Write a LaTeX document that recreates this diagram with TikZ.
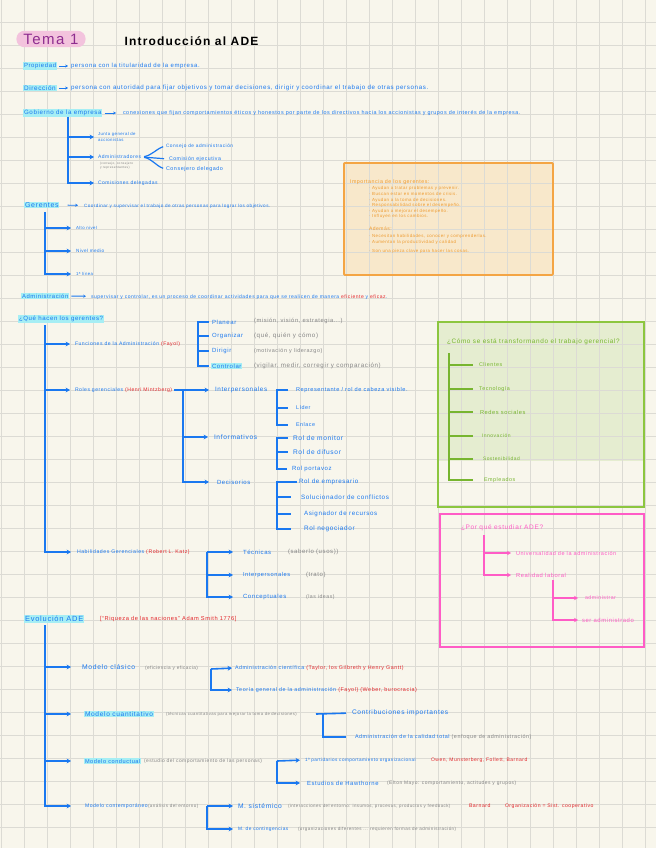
\documentclass[tikz,border=0pt]{standalone}
\usepackage{fontspec}
\setmainfont{Liberation Sans}[LetterSpace=10]
\usetikzlibrary{arrows.meta}
\definecolor{paper}{HTML}{F8F6EC}
\definecolor{gridc}{HTML}{DCDBD4}
\definecolor{bl}{HTML}{1A78F0}
\definecolor{rd}{HTML}{E3262B}
\definecolor{gy}{HTML}{868686}
\definecolor{hl}{HTML}{A6EEF4}
\definecolor{orb}{HTML}{F4A544}
\definecolor{orf}{HTML}{F8E8CB}
\definecolor{orT}{HTML}{EE9A2E}
\definecolor{grb}{HTML}{8CC63F}
\definecolor{grf}{HTML}{E5EDD0}
\definecolor{grT}{HTML}{77B52F}
\definecolor{pk}{HTML}{FF5CC6}
\definecolor{tpk}{HTML}{F3C3DD}
\definecolor{tpu}{HTML}{8E2D8F}
\newcommand{\fsz}[1]{\fontsize{#1}{#1}\selectfont}
\tikzset{
 tx/.style={anchor=west, inner sep=0.8pt, text=bl, font=\fsz{6}},
 gt/.style={tx, text=gy},
 rt/.style={tx, text=rd},
 hlt/.style={tx, fill=hl},
 ot/.style={tx, text=orT, font=\fsz{4.4}},
 gnt/.style={tx, text=grT, font=\fsz{5.4}},
 pkt/.style={tx, text=pk, font=\fsz{5.5}},
 arr/.style={draw=bl, line width=1.6pt, -{Stealth[length=4.4pt,width=4.8pt]}},
 ln/.style={draw=bl, line width=1.6pt},
 sarr/.style={draw=bl, line width=0.9pt, -{Stealth[length=2.8pt,width=3pt]}},
 gln/.style={draw=grT, line width=1.5pt},
 parr/.style={draw=pk, line width=1.5pt, -{Stealth[length=4pt,width=4.4pt]}},
}
\begin{document}
\begin{tikzpicture}[x=1pt,y=-1pt]
\useasboundingbox (0,0) rectangle (656,848);
\fill[paper] (0,0) rectangle (656,848);
% boxes backgrounds
\fill[orf] (343,162) rectangle (552,274);
\fill[grf] (437,321) rectangle (643,461);
\foreach \i in {0,...,28}{\draw[gridc, line width=0.8pt] ({1+23*\i},0) -- ({1+23*\i},848);}
\foreach \j in {0,...,37}{\draw[gridc, line width=0.8pt] (0,{-0.7+23*\j}) -- (656,{-0.7+23*\j});}

% title
\node[fill=tpk, rounded corners=8pt, text=tpu, font=\fsz{15}, inner xsep=7pt, inner ysep=3pt] (tema) at (51,39) {Tema 1};
\node[anchor=west, text=black, font=\bfseries\fsz{12}] (intro) at (121,41) {Introducción al ADE};

% definitions
\node[hlt] (prop) at (23,66) {Propiedad};
\node[tx] (propt) at (70,66) {persona con la titularidad de la empresa.};
\draw[sarr, shorten <=2pt, shorten >=2pt] (prop) -- (propt);
\node[hlt, font=\fsz{6.4}] (dir) at (23,88) {Dirección};
\node[tx, font=\fsz{6.2}] (dirt) at (70,88) {persona con autoridad para fijar objetivos y tomar decisiones, dirigir y coordinar el trabajo de otras personas.};
\draw[sarr, shorten <=2pt, shorten >=2pt] (dir) -- (dirt);
\node[hlt, font=\fsz{6.2}] (gob) at (23,113) {Gobierno de la empresa};
\node[tx, font=\fsz{5.4}] (gobt) at (122,113) {conexiones que fijan comportamientos éticos y honestos por parte de los directivos hacia los accionistas y grupos de interés de la empresa.};
\draw[sarr, shorten <=2pt, shorten >=6pt] (gob) -- (gobt);

% tree gobierno
\coordinate (g0) at (68,117);
\node[tx, font=\fontsize{4.3}{5.6}\selectfont, align=left] (jg) at (97,137) {Junta general de\\accionistas};
\node[tx, font=\fsz{5}] (adm) at (97,157) {Administradores};
\node[gt, font=\fontsize{3.2}{3.9}\selectfont, align=left] (admsub) at (99,165.5) {(consejo, consejero\\ y representantes)};
\node[tx, font=\fsz{5}] (com) at (97,183) {Comisiones delegadas};
\draw[arr, shorten >=3pt] (g0) |- (jg.west);
\draw[arr, shorten >=3pt] (g0) |- (adm.west);
\draw[arr, shorten >=3pt] (g0) |- (com.west);
\node[tx, font=\fsz{4.8}] (cda) at (165,146) {Consejo de administración};
\node[tx, font=\fsz{5.2}] (cej) at (168,159) {Comisión ejecutiva};
\node[tx, font=\fsz{5.4}] (cdel) at (165,169) {Consejero delegado};
\draw[ln, line width=1.2pt, shorten <=2pt, shorten >=2pt] (adm.east) to[out=10, in=200] (cda.west);
\draw[ln, line width=1.2pt, shorten <=2pt, shorten >=4pt] (adm.east) -- (cej.west);
\draw[ln, line width=1.2pt, shorten <=2pt, shorten >=2pt] (adm.east) to[out=-10, in=160] (cdel.west);

% gerentes
\node[hlt, font=\fsz{7}] (ger) at (24,205) {Gerentes};
\node[tx, font=\fsz{4.6}] (gert) at (83,206) {Coordinar y supervisar el trabajo de otras personas para lograr los objetivos.};
\draw[sarr, shorten <=8pt, shorten >=5pt] (ger) -- (gert);
\coordinate (c0) at (45,212);
\node[tx, font=\fsz{4.3}] (alto) at (75,228) {Alto nivel};
\node[tx, font=\fsz{4.6}] (medio) at (75,251) {Nivel medio};
\node[tx, font=\fsz{4.3}] (linea) at (75,274) {1ª línea};
\draw[arr, shorten >=4pt] (c0) |- (alto.west);
\draw[arr, shorten >=4pt] (c0) |- (medio.west);
\draw[arr, shorten >=4pt] (c0) |- (linea.west);

% orange box
\node[draw=orb, line width=1.8pt, rounded corners=1pt, minimum width=209pt, minimum height=112pt, anchor=north west, inner sep=0] (obox) at (343,162) {};
\node[ot, font=\fsz{5.3}] (oimp) at (349,182) {Importancia de los gerentes:};
\node[ot] (o1) at (368,188) {· Ayudan a tratar problemas y prevenir.};
\node[ot] (o2) at (368,194) {· Buscan estar en momentos de crisis.};
\node[ot] (o3) at (368,200) {· Ayudan a la toma de decisiones.};
\node[ot] (o4) at (368,205.5) {· Responsabilidad sobre el desempeño.};
\node[ot] (o5) at (368,211) {· Ayudan a mejorar el desempeño.};
\node[ot] (o6) at (368,216.5) {· Influyen en los cambios.};
\node[ot, font=\fsz{5}] (oad) at (368,229) {Además:};
\node[ot] (o7) at (368,236) {· Necesitan habilidades, conocer y comprenderlas.};
\node[ot] (o8) at (368,242.5) {· Aumentan la productividad y calidad};
\node[ot] (o9) at (368,251) {· Son una pieza clave para hacer las cosas.};

% administracion
\node[hlt, font=\fsz{5.9}] (admn) at (21,296) {Administración};
\node[tx, font=\fsz{5}] (admt) at (90,297) {supervisar y controlar, es un proceso de coordinar actividades para que se realicen de manera \textcolor{rd}{eficiente} y \textcolor{rd}{eficaz}.};
\draw[sarr, shorten <=2pt, shorten >=4pt] (admn) -- (admt);

% que hacen
\node[hlt, font=\fsz{6.1}] (que) at (18,319) {¿Qué hacen los gerentes?};
\coordinate (q0) at (45,325);
\node[tx, font=\fsz{5.1}] (fun) at (74,344) {Funciones de la Administración \textcolor{rd}{(Fayol)}};
\draw[arr, shorten >=4pt] (q0) |- (fun.west);
\coordinate (fb) at (198,344);
\node[tx] (plan) at (211,322) {Planear};
\node[tx] (orga) at (211,336) {Organizar};
\node[tx] (dirg) at (211,351) {Dirigir};
\node[hlt] (ctrl) at (211,366) {Controlar};
\draw[ln, shorten >=2pt] (fb) |- (plan.west);
\draw[ln, shorten >=2pt] (fb) |- (orga.west);
\draw[ln, shorten >=2pt] (fb) |- (dirg.west);
\draw[ln, shorten >=2pt] (fb) |- (ctrl.west);
\node[gt, font=\fsz{5.8}] (planD) at (253,321) {(misión, visión, estrategia...)};
\node[gt, font=\fsz{6.2}] (orgaD) at (253,336) {(qué, quién y cómo)};
\node[gt, font=\fsz{5.4}] (dirgD) at (253,351) {(motivación y liderazgo)};
\node[gt, font=\fsz{6.2}] (ctrlD) at (253,366) {(vigilar, medir, corregir y comparación)};

% roles
\node[tx, font=\fsz{5.1}] (rol) at (74,390) {Roles gerenciales \textcolor{rd}{(Henri Mintzberg)}};
\draw[arr, shorten >=4pt] (q0) |- (rol.west);
\coordinate (r0) at (183,390);
\draw[ln, shorten <=1pt] (rol.east) -- (r0);
\node[tx, font=\fsz{6.3}] (ip) at (214,390) {Interpersonales};
\node[tx, font=\fsz{6.6}] (inf) at (213,437) {Informativos};
\node[tx, font=\fsz{6}] (dec) at (216,482) {Decisorios};
\draw[arr, shorten >=5pt] (r0) |- (ip.west);
\draw[arr, shorten >=5pt] (r0) |- (inf.west);
\draw[arr, shorten >=7pt] (r0) |- (dec.west);
\coordinate (ipb) at (277,408);
\node[tx, font=\fsz{5.6}] (rep) at (295,390) {Representante / rol de cabeza visible.};
\node[tx, font=\fsz{5.4}] (lid) at (295,408) {Líder};
\node[tx, font=\fsz{5.4}] (enl) at (295,425) {Enlace};
\draw[ln, shorten >=7pt] (ipb) |- (rep.west);
\draw[ln, shorten >=7pt] (ipb) |- (lid.west);
\draw[ln, shorten >=7pt] (ipb) |- (enl.west);
\coordinate (infb) at (277,452);
\node[tx, font=\fsz{6.6}] (mon) at (292,438) {Rol de monitor};
\node[tx, font=\fsz{6.6}] (dif) at (292,452) {Rol de difusor};
\node[tx, font=\fsz{6}] (por) at (291,469) {Rol portavoz};
\draw[ln, shorten >=4pt] (infb) |- (mon.west);
\draw[ln, shorten >=4pt] (infb) |- (dif.west);
\draw[ln, shorten >=4pt] (infb) |- (por.west);
\coordinate (decb) at (277,505);
\node[tx, font=\fsz{6.2}] (emp) at (298,482) {Rol de empresario};
\node[tx, font=\fsz{6.3}] (sol) at (300,497) {Solucionador de conflictos};
\node[tx, font=\fsz{6.2}] (asig) at (303,514) {Asignador de recursos};
\node[tx, font=\fsz{6.4}] (neg) at (303,529) {Rol negociador};
\draw[ln, shorten >=1pt] (decb) |- (emp.west);
\draw[ln, shorten >=9pt] (decb) |- (sol.west);
\draw[ln, shorten >=12pt] (decb) |- (asig.west);
\draw[ln, shorten >=12pt] (decb) |- (neg.west);

% habilidades
\node[tx, font=\fsz{5.2}] (hab) at (76,552) {Habilidades Gerenciales \textcolor{rd}{(Robert L. Katz)}};
\draw[arr, shorten >=5pt] (q0) |- (hab.west);
\coordinate (h0) at (207,552);
\node[tx] (tec) at (242,552) {Técnicas};
\node[tx, font=\fsz{5.7}] (intp) at (242,575) {Interpersonales};
\node[tx] (conc) at (242,597) {Conceptuales};
\draw[arr, shorten >=9pt] (h0) -- (tec.west);
\draw[arr, shorten >=9pt] (h0) |- (intp.west);
\draw[arr, shorten >=9pt] (h0) |- (conc.west);
\node[gt] (tecD) at (287,552) {(saberlo (usos))};
\node[gt] (intpD) at (305,575) {(trato)};
\node[gt, font=\fsz{5.2}] (concD) at (305,597) {(las ideas)};

% green box
\node[draw=grb, line width=1.8pt, minimum width=206pt, minimum height=185pt, anchor=north west, inner sep=0] (gbox) at (437,321) {};
\node[gnt, font=\fsz{6.4}] (gtit) at (446,342) {¿Cómo se está transformando el trabajo gerencial?};
\coordinate (gv) at (449,353);
\node[gnt] (cli) at (478,365) {Clientes};
\node[gnt] (tecn) at (478,389) {Tecnología};
\node[gnt, font=\fsz{5.7}] (red) at (479,412) {Redes sociales};
\node[gnt, font=\fsz{5}] (inn) at (481,436) {Innovación};
\node[gnt, font=\fsz{4.9}] (sost) at (482,459) {Sostenibilidad};
\node[gnt] (empl) at (483,480) {Empleados};
\draw[gln, shorten >=5pt] (gv) |- (cli.west);
\draw[gln, shorten >=5pt] (gv) |- (tecn.west);
\draw[gln, shorten >=6pt] (gv) |- (red.west);
\draw[gln, shorten >=8pt] (gv) |- (inn.west);
\draw[gln, shorten >=9pt] (gv) |- (sost.west);
\draw[gln, shorten >=10pt] (gv) |- (empl.west);

% pink box
\node[draw=pk, line width=1.8pt, minimum width=204pt, minimum height=133pt, anchor=north west, inner sep=0] (pbox) at (439,513) {};
\node[pkt, font=\fsz{6.5}] (ptit) at (460,528) {¿Por qué estudiar ADE?};
\coordinate (p0) at (484,535);
\node[pkt] (univ) at (515,553) {Universalidad de la administración};
\node[pkt, font=\fsz{5.8}] (real) at (515,575) {Realidad laboral};
\draw[parr, shorten >=4pt] (p0) |- (univ.west);
\draw[parr, shorten >=4pt] (p0) |- (real.west);
\coordinate (p1) at (553,580);
\node[pkt, font=\fsz{5.2}] (admr) at (584,598) {administrar};
\node[pkt, font=\fsz{5.9}] (sera) at (581,620) {ser administrado};
\draw[parr, shorten >=6pt] (p1) |- (admr.west);
\draw[parr, shorten >=3pt] (p1) |- (sera.west);

% evolucion
\node[hlt, font=\fsz{7.5}] (evo) at (24,619) {Evolución ADE};
\node[rt, font=\fsz{5.7}] (riq) at (99,619) {[“Riqueza de las naciones” Adam Smith 1776]};
\coordinate (e0) at (45,625);
\node[tx, font=\fsz{6.8}] (clas) at (81,667) {Modelo clásico};
\node[gt, font=\fsz{4.7}] (clasD) at (144,668) {(eficiencia y eficacia)};
\draw[arr, shorten >=10pt] (e0) |- (clas.west);
\coordinate (k0) at (211,669);
\node[tx, font=\fsz{5.3}] (cien) at (234,668) {Administración científica \textcolor{rd}{(Taylor, los Gilbreth y Henry Gantt)}};
\node[tx, font=\fsz{5.4}] (teo) at (235,690) {Teoría general de la administración \textcolor{rd}{(Fayol) (Weber, burocracia)}};
\draw[arr, shorten >=2pt] (k0) -- (cien.west);
\draw[arr, shorten >=3pt] (k0) |- (teo.west);

\node[hlt, font=\fsz{6.6}] (cuan) at (84,714) {Modelo cuantitativo};
\node[gt, font=\fsz{4.2}] (cuanD) at (165,714) {(técnicas cuantitativas para mejorar la toma de decisiones)};
\draw[arr, shorten >=13pt] (e0) |- (cuan.west);
\coordinate (u0) at (316,714);
\coordinate (u1) at (323,714);
\node[tx, font=\fsz{6.6}] (contr) at (351,713) {Contribuciones importantes};
\node[tx, font=\fsz{5.4}] (cal) at (354,737) {Administración de la calidad total \textcolor{gy}{(enfoque de administración)}};
\draw[ln, shorten >=5pt] (u0) -- (contr.west);
\draw[ln, shorten >=8pt] (u1) |- (cal.west);

\node[hlt, font=\fsz{5.6}] (cond) at (84,761) {Modelo conductual};
\node[gt, font=\fsz{4.9}] (condD) at (143,761) {(estudio del comportamiento de las personas)};
\draw[arr, shorten >=13pt] (e0) |- (cond.west);
\coordinate (d0) at (277,761);
\node[tx, font=\fsz{4.6}] (part) at (304,760) {1º partidarios comportamiento organizacional};
\node[rt, font=\fsz{5}] (owen) at (430,760) {Owen, Munsterberg, Follett, Barnard};
\node[tx, font=\fsz{5.9}] (haw) at (306,783) {Estudios de Hawthorne};
\node[gt, font=\fsz{4.9}] (hawD) at (386,783) {(Elton Mayo: comportamiento, actitudes y grupos)};
\draw[arr, shorten >=4pt] (d0) -- (part.west);
\draw[arr, shorten >=6pt] (d0) |- (haw.west);

\node[tx, font=\fsz{5.1}] (cont) at (84,806) {Modelo contemporáneo};
\node[gt, font=\fsz{4.5}] (contD) at (147,806) {(análisis del entorno)};
\draw[arr, shorten >=13pt] (e0) |- (cont.west);
\coordinate (m0) at (207,806);
\node[tx, font=\fsz{6.7}] (sis) at (237,806) {M. sistémico};
\node[gt, font=\fsz{4.4}] (sisD) at (287,806) {(interacciones del entorno: insumos, procesos, productos y feedback)};
\node[rt, font=\fsz{5.2}] (barn) at (468,806) {Barnard};
\node[rt, font=\fsz{5.1}] (orgs) at (504,806) {Organización = Sist. cooperativo};
\node[tx, font=\fsz{4.8}] (cnt) at (237,829) {M. de contingencias};
\node[gt, font=\fsz{4.5}] (cntD) at (297,829) {(organizaciones diferentes ... requieren formas de administración)};
\draw[arr, shorten >=4pt] (m0) -- (sis.west);
\draw[arr, shorten >=4pt] (m0) |- (cnt.west);
\end{tikzpicture}
\end{document}
